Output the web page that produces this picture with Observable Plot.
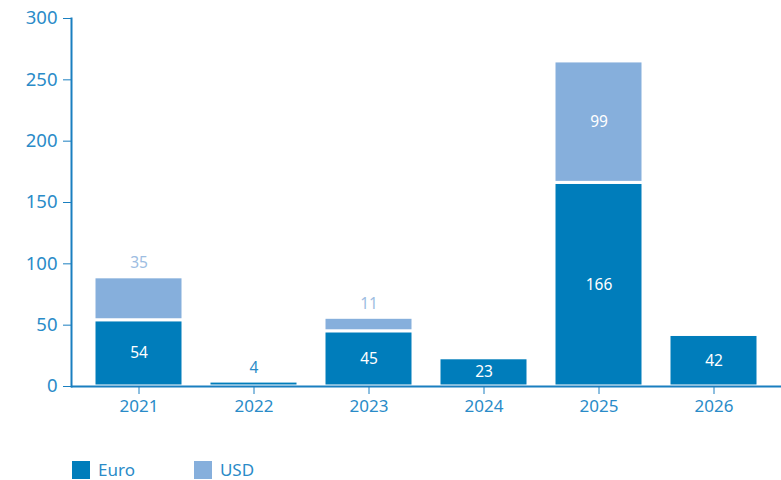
<!DOCTYPE html>
<html><head><meta charset="utf-8">
<script src="https://cdn.jsdelivr.net/npm/d3@7"></script>
<script src="https://cdn.jsdelivr.net/npm/@observablehq/plot@0.6"></script>
<style>
body{margin:0;background:#fff;font-family:"Noto Sans",sans-serif;}
#legend{display:flex;align-items:center;padding-top:37px;padding-left:72px;font-size:17px;line-height:18px;color:#2a8bc8;}
.item{display:flex;align-items:center;margin-right:59px;}
.sw{width:18px;height:18px;margin-right:8px;}
</style></head>
<body><div id="chart"></div><div id="legend"></div>
<script>
const years = ["2021","2022","2023","2024","2025","2026"];
const euro = [54, 4, 45, 23, 166, 42];
const usd = [35, 0, 11, 0, 99, 0];
const seriesNames = ["Euro", "USD"];
const seriesColors = ["#007dbb", "#86afdc"];
const labelAboveColors = ["#2a8bc8", "#9dbde2"];
const yTicks = [0, 50, 100, 150, 200, 250, 300];

const rows = [];
years.forEach((y, i) => {
  if (euro[i] > 0) rows.push({year: y, series: "Euro", value: euro[i]});
  if (usd[i] > 0) rows.push({year: y, series: "USD", value: usd[i]});
});
const inside = d => d.series === "Euro" ? d.value >= 10 : d.value >= 50;

const axisColor = "#1a7fc0";
const textColor = "#2a8bc8";

const chart = Plot.plot({
  width: 781, height: 424,
  marginLeft: 71, marginRight: 0, marginTop: 18, marginBottom: 38,
  style: {fontFamily: "Noto Sans, sans-serif", background: "#fff", display: "block"},
  x: {domain: years, paddingInner: 0.226, paddingOuter: 0.113, insetLeft: 10, insetRight: 10, label: null},
  y: {domain: [0, 300], label: null},
  color: {domain: seriesNames, range: seriesColors},
  marks: [
    Plot.barY(rows, Plot.stackY({x: "year", y: "value", fill: "series", stroke: "white", strokeWidth: 3})),
    Plot.text(rows, Plot.stackY({x: "year", y: "value", text: d => inside(d) ? String(d.value) : "", fill: "white", fontSize: 15.5})),
    Plot.text(rows, Plot.stackY2({x: "year", y: "value", text: d => inside(d) ? "" : String(d.value),
      fill: d => labelAboveColors[seriesNames.indexOf(d.series)], fontSize: 15.5, dy: -14})),
    Plot.ruleY([0], {stroke: axisColor, strokeWidth: 2}),
    Plot.axisY({ticks: yTicks, tickSize: 8, tickPadding: 6, fontSize: 18.5, color: textColor, stroke: axisColor, tickFormat: d => String(d)}),
    Plot.axisX({tickSize: 8, tickPadding: 5, fontSize: 17, color: textColor, stroke: axisColor}),
    Plot.frame({anchor: "left", stroke: axisColor, strokeWidth: 2})
  ]
});
document.getElementById("chart").appendChild(chart);

const legend = document.getElementById("legend");
seriesNames.forEach((n, i) => {
  const it = document.createElement("div"); it.className = "item";
  const sw = document.createElement("div"); sw.className = "sw"; sw.style.background = seriesColors[i];
  const t = document.createElement("span"); t.textContent = n;
  it.appendChild(sw); it.appendChild(t); legend.appendChild(it);
});
</script></body></html>
